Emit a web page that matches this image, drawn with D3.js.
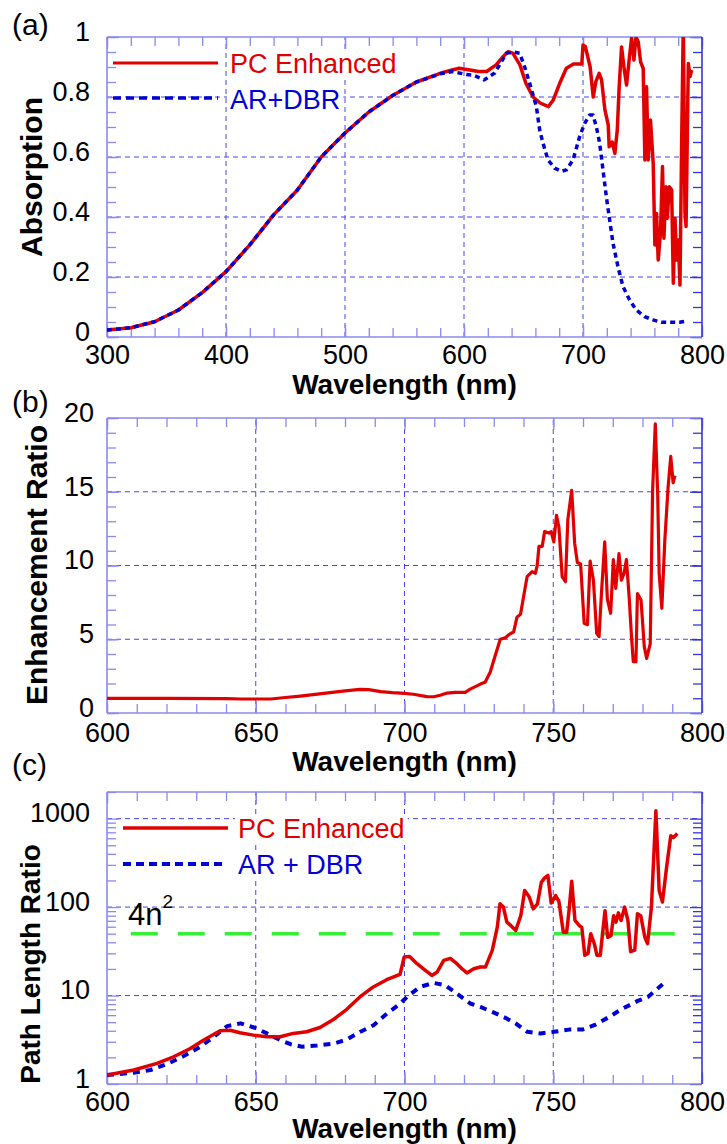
<!DOCTYPE html>
<html><head><meta charset="utf-8">
<script src="https://cdn.jsdelivr.net/npm/d3@7"></script>
<style>
body{margin:0;background:#fff}
svg{display:block}
text{font-family:"Liberation Sans",Arial,Helvetica,sans-serif}
</style>
</head><body>
<svg id="chart" width="727" height="1144"></svg>
<script>
// ---------------- DATA ----------------
// Panel (a): Absorption vs wavelength
const absWlPC = [300,320,340,360,380,400,420,440,460,480,500,520,540,560,580,590,596,605,612,619,627,633,637,641,647,652,658,664,671,675,681,686,692,699,700,702,706,708.6,710.8,713.6,715.6,718.4,721.2,722,724.5,726.8,728.8,730.4,732.4,734.4,736.6,738.9,740.8,742.8,744.5,746.4,748.4,750.6,752,753.4,754.8,756.7,759,760.4,761.8,763.2,765.1,766.8,768,769.7,770.8,772.5,774.5,775.9,777.3,778.7,780.1,781.5,782.9,784.3,785.7,786.6,788.5,790,791.3];
const absPC = [0.023,0.031,0.051,0.09,0.148,0.218,0.307,0.407,0.49,0.60,0.68,0.75,0.805,0.85,0.879,0.89,0.896,0.89,0.885,0.885,0.907,0.935,0.951,0.946,0.907,0.846,0.80,0.78,0.768,0.79,0.851,0.896,0.91,0.91,0.973,0.968,0.90,0.80,0.851,0.879,0.857,0.757,0.707,0.634,0.65,0.612,0.69,0.834,0.967,0.90,0.84,0.928,0.996,0.923,1.0,0.984,0.917,0.895,0.59,0.834,0.59,0.723,0.579,0.307,0.412,0.257,0.346,0.568,0.329,0.501,0.396,0.501,0.49,0.179,0.396,0.257,0.323,0.173,0.646,1.05,0.412,0.368,0.912,0.868,0.89];
const absWlRef = [300,320,340,360,380,400,420,440,460,480,500,520,540,560,580,590,596,602,608,617,625.8,631.4,635.6,641.2,646.8,651,655.2,660.8,663.6,666.4,670.6,676.2,681.8,686,691.6,697.2,701.4,705.6,708.4,711.2,714,716.8,719.6,722.4,725.2,729.4,733.6,739.2,744.8,751.8,758.8,765.8,774.2,781.2,788.2];
const absRef = [0.023,0.031,0.051,0.09,0.148,0.218,0.307,0.407,0.49,0.60,0.68,0.75,0.805,0.85,0.877,0.885,0.88,0.875,0.873,0.857,0.88,0.917,0.946,0.95,0.946,0.90,0.846,0.768,0.69,0.646,0.59,0.563,0.552,0.557,0.59,0.668,0.712,0.74,0.74,0.701,0.646,0.557,0.468,0.39,0.313,0.234,0.168,0.123,0.09,0.068,0.057,0.049,0.049,0.049,0.054];

// Panel (b): Enhancement ratio
const erWl = [600,620,640,645,655,660,665,670,675,680,685,688,692,696,700,703,707.5,709.8,712,714.3,717,720.4,722.1,725.5,727.1,728.8,730.5,732.2,733.9,735,736.7,737.8,739,741.2,742.9,744,744.6,745.2,746.3,747.1,748.5,749.3,750.2,751.1,751.9,753,754.1,754.9,756.2,757.2,758.1,759.2,760.4,761.5,762.4,763.5,764.6,765.4,766.2,767.3,768.2,769.3,770.2,771,772.1,772.9,773.8,774.6,775.5,776.3,776.9,777.8,778.3,779.5,780.6,781.4,782.6,783.4,784.3,785.1,785.6,786.5,787.5,788.6,789.5,790.3,790.9];
const erVal = [0.99,0.99,0.97,0.95,0.95,1.05,1.15,1.26,1.38,1.5,1.6,1.58,1.45,1.38,1.33,1.27,1.11,1.1,1.2,1.35,1.4,1.4,1.62,1.96,2.08,2.76,3.9,5.0,5.1,5.3,5.5,6.5,6.7,9.24,9.58,9.47,10.0,11.3,11.3,12.3,12.2,12.3,11.6,13.4,12.6,9.24,8.9,13.1,15.1,11.5,10.2,10.1,6.08,5.99,10.3,9.0,5.4,5.18,8.1,11.6,7.7,6.76,10.4,8.45,10.8,9.0,9.47,10.4,7.9,5.2,3.48,3.48,8.1,7.66,4.5,3.7,4.7,15.1,19.6,14.9,9.47,7.1,11.7,15.3,17.4,15.6,16.1];

// Panel (c): Path length ratio (log scale)
const plWlPC = [600,609,616.8,622.4,628,632.4,638,641.4,644.7,649.2,653.7,658.2,662.6,667.1,671.6,676.1,680.5,685,689.5,694,698.5,699.9,701.7,704.2,707,709.2,710.9,713.2,715.4,717.6,719.3,721,723.3,725.5,727.2,729.5,731.2,732.1,733.2,734.4,735.7,737.4,739.1,740.4,741.9,743.3,744.7,746,747.1,748.2,749.3,750.8,751.9,753.4,754.5,755.3,756.2,757.3,758.7,759.6,760.6,761.7,762.6,763.8,764.7,765.8,767.4,768.3,769.4,770.3,771.1,771.9,772.8,774,775.1,776,777.4,778.3,779.4,780.8,781.7,783,784.5,785.6,786.7,788.1,789.5,790.5,791.7];
const plPC = [1.26,1.44,1.71,2.03,2.52,3.13,3.99,4.05,3.79,3.57,3.42,3.42,3.73,3.9,4.35,5.36,6.95,9.64,12.5,15.1,17.3,27.3,27.7,22.9,19.3,16.9,18.3,25,26.3,22.9,20.1,18.0,20.1,21,21,32.4,59.4,109,101,67.6,62,54.5,80.4,154,131,95.6,109,191,214,228,111,135,116,52,52,91,196,70.6,62,59,28.5,29.9,50,38.6,28.5,28.5,91,45.5,47.5,80,67.6,86,70.6,100,70.6,31.3,32.7,84,80,45.5,38.6,100,1227,154,114,282,641,613,678];
const plWlRef = [600,608.9,614.6,620.2,625.8,631.4,635.9,640.4,644.9,649.4,653.8,658.3,661.7,665.6,670.6,676.2,680.7,685.2,689.6,694.1,698.6,700.8,705.2,709.7,713.6,717.6,722.1,725.5,729.5,733.9,737.4,741.3,745.8,750.3,755.3,759.8,763.8,768.3,772.8,778.4,781.8,785.1,788.3];
const plRef = [1.26,1.34,1.44,1.68,2.07,2.64,3.42,4.51,4.85,4.35,3.73,3.13,2.82,2.64,2.72,2.86,3.19,3.9,4.62,6.26,8.13,9.64,12.5,13.9,13.1,10.5,8.13,7.44,6.53,5.6,4.83,3.89,3.73,3.89,4.12,4.12,4.62,5.6,6.95,8.7,9.64,12.0,14.9];
const limitWl = [608,794];
const limitVal = [50,50];

// Tick labels
const absXTicks = [300,400,500,600,700,800];
const absYTicks = [0,0.2,0.4,0.6,0.8,1];
const absYLabels = ["0","0.2","0.4","0.6","0.8","1"];
const nirXTicks = [600,650,700,750,800];
const erYTicks = [0,5,10,15,20];
const plYTicks = [1,10,100,1000];

const legendNames = ["PC Enhanced","AR+DBR","AR + DBR"];

// ---------------- STYLE ----------------
const FRAME_L = "#8a8af0", FRAME_R = "#3434e2", GRID = "#4646e4";
const RED = "#e00000", BLUE = "#0000d4", GREEN = "#38ee38";
const svg = d3.select("#chart");
const X0 = 107, X1 = 702;

function panel(cfg){
  const g = svg.append("g");
  const x = cfg.x, y = cfg.y;
  const [yb, yt] = y.range();
  const clipId = cfg.id + "clip";
  svg.append("clipPath").attr("id", clipId).append("rect")
    .attr("x", X0).attr("y", yt).attr("width", X1 - X0).attr("height", yb - yt);

  // grid
  g.selectAll(null).data(cfg.xGrid).join("line")
    .attr("x1", d => x(d)).attr("x2", d => x(d)).attr("y1", yb).attr("y2", yt)
    .attr("stroke", GRID).attr("stroke-width", 1).attr("stroke-dasharray", "5,4");
  g.selectAll(null).data(cfg.yGrid).join("line")
    .attr("y1", d => y(d)).attr("y2", d => y(d)).attr("x1", X0).attr("x2", X1)
    .attr("stroke", GRID).attr("stroke-width", 1).attr("stroke-dasharray", "5,4");

  // ticks
  function ax(gen, vals, size, tx, ty, color){
    const a = g.append("g").attr("transform", `translate(${tx},${ty})`)
      .call(gen.tickValues(vals).tickSize(-size).tickFormat(""));
    a.select(".domain").remove();
    a.selectAll("line").attr("stroke", color).attr("stroke-width", 1.3);
  }
  ax(d3.axisBottom(x), cfg.xMinor, 9, 0, yb, FRAME_L);
  ax(d3.axisTop(x), cfg.xMinor, 9, 0, yt, FRAME_L);
  ax(d3.axisBottom(x), cfg.xMajor, 12, 0, yb, FRAME_L);
  ax(d3.axisTop(x), cfg.xMajor, 12, 0, yt, FRAME_L);
  ax(d3.axisLeft(y), cfg.yMinor, 9, X0, 0, FRAME_L);
  ax(d3.axisRight(y), cfg.yMinor, 9, X1, 0, FRAME_R);
  ax(d3.axisLeft(y), cfg.yMajor, 12, X0, 0, FRAME_L);
  ax(d3.axisRight(y), cfg.yMajor, 12, X1, 0, FRAME_R);

  // tick labels
  const bl = g.append("g").attr("transform", `translate(0,${yb})`)
    .call(d3.axisBottom(x).tickValues(cfg.xMajor).tickSize(0).tickPadding(cfg.xPad).tickFormat(d => d));
  bl.select(".domain").remove();
  bl.selectAll("text").attr("font-size", 27).attr("fill", "#000")
    .attr("font-family", "Liberation Sans, Arial, sans-serif");
  const ll = g.append("g").attr("transform", `translate(${X0},0)`)
    .call(d3.axisLeft(y).tickValues(cfg.yMajor).tickSize(0).tickPadding(cfg.yPad).tickFormat(cfg.yFmt));
  ll.select(".domain").remove();
  ll.selectAll("text").attr("font-size", 27).attr("fill", "#000").attr("dy", "0.12em")
    .attr("font-family", "Liberation Sans, Arial, sans-serif");

  // frame
  const f = g.append("g").attr("fill", "none").attr("stroke-width", 1.6);
  f.append("line").attr("x1", X0).attr("x2", X1).attr("y1", yt).attr("y2", yt).attr("stroke", FRAME_L);
  f.append("line").attr("x1", X0).attr("x2", X1).attr("y1", yb).attr("y2", yb).attr("stroke", FRAME_L);
  f.append("line").attr("x1", X0).attr("x2", X0).attr("y1", yt).attr("y2", yb).attr("stroke", FRAME_L);
  f.append("line").attr("x1", X1).attr("x2", X1).attr("y1", yt).attr("y2", yb).attr("stroke", FRAME_R);

  // titles
  svg.append("text").attr("x", (X0 + X1) / 2).attr("y", cfg.xtY).attr("text-anchor", "middle")
    .attr("font-size", 28).attr("font-weight", "bold").text("Wavelength (nm)");
  svg.append("text").attr("transform", `translate(${cfg.ytX},${cfg.ytY}) rotate(-90)`)
    .attr("text-anchor", "middle").attr("font-size", cfg.ytSize).attr("font-weight", "bold").text(cfg.yTitle);
  svg.append("text").attr("x", 12).attr("y", cfg.labY).attr("font-size", 30).text(cfg.lab);

  const plot = svg.append("g").attr("clip-path", `url(#${clipId})`);
  return plot;
}

function series(plot, wl, vals, x, y, color, width, dash){
  const line = d3.line().x(d => x(d[0])).y(d => y(d[1]));
  plot.append("path").datum(d3.zip(wl, vals)).attr("d", line)
    .attr("fill", "none").attr("stroke", color).attr("stroke-width", width)
    .attr("stroke-linejoin", "round").attr("stroke-dasharray", dash || null);
}

function legendItem(x1, x2, yLine, tx, tyBase, color, width, dash, label){
  svg.append("line").attr("x1", x1).attr("x2", x2).attr("y1", yLine).attr("y2", yLine)
    .attr("stroke", color).attr("stroke-width", width).attr("stroke-dasharray", dash || null);
  const t = svg.append("text").attr("x", tx).attr("y", tyBase).attr("font-size", 27)
    .attr("fill", color).text(label);
  const bb = t.node().getBBox();
  svg.insert("rect", () => t.node()).attr("x", bb.x - 3).attr("y", bb.y + 2)
    .attr("width", bb.width + 6).attr("height", bb.height - 4).attr("fill", "#fff");
}

// ---------------- PANEL A ----------------
const xa = d3.scaleLinear().domain([300, 800]).range([X0, X1]);
const ya = d3.scaleLinear().domain([0, 1]).range([337, 37]);
const pa = panel({id:"a", x:xa, y:ya,
  xMajor:absXTicks, xMinor:d3.range(300, 801, 20), xGrid:[400,500,600,700],
  yMajor:absYTicks, yMinor:d3.range(0, 1.001, 0.05), yGrid:[0.2,0.4,0.6,0.8],
  xPad:8, yPad:17, yFmt:(d,i) => absYLabels[i],
  xtY:394, ytX:42, ytY:177, ytSize:30, yTitle:"Absorption", lab:"(a)", labY:35});
series(pa, absWlPC, absPC, xa, ya, RED, 3.5);
series(pa, absWlRef, absRef, xa, ya, BLUE, 3.5, "5,4");
legendItem(113, 218, 63, 230, 73, RED, 3, null, legendNames[0]);
legendItem(113, 218, 98, 230, 109, BLUE, 3.5, "8,5", legendNames[1]);

// ---------------- PANEL B ----------------
const xb = d3.scaleLinear().domain([600, 800]).range([X0, X1]);
const yb = d3.scaleLinear().domain([0, 20]).range([713, 418]);
const pb = panel({id:"b", x:xb, y:yb,
  xMajor:nirXTicks, xMinor:d3.range(600, 801, 10), xGrid:[650,700,750],
  yMajor:erYTicks, yMinor:d3.range(0, 21, 1), yGrid:[5,10,15],
  xPad:10, yPad:13, yFmt:d => d,
  xtY:771, ytX:47, ytY:565, ytSize:30, yTitle:"Enhancement Ratio", lab:"(b)", labY:412});
series(pb, erWl, erVal, xb, yb, RED, 3.2);

// ---------------- PANEL C ----------------
const xc = d3.scaleLinear().domain([600, 800]).range([X0, X1]);
const yc = d3.scaleLog().domain([1, 2000]).range([1084, 792]);
const logMinor = [];
[1,10,100,1000].forEach(dec => { for (let k = 2; k <= 9; k++) { const v = dec * k; if (v <= 2000) logMinor.push(v); } });
const pc = panel({id:"c", x:xc, y:yc,
  xMajor:nirXTicks, xMinor:d3.range(600, 801, 10), xGrid:[650,700,750],
  yMajor:plYTicks, yMinor:logMinor, yGrid:[10,100,1000],
  xPad:8, yPad:17, yFmt:d => d,
  xtY:1138, ytX:40, ytY:964, ytSize:28, yTitle:"Path Length Ratio", lab:"(c)", labY:775});
series(pc, limitWl, limitVal, xc, yc, GREEN, 3.5, "27,20");
series(pc, plWlRef, plRef, xc, yc, BLUE, 4, "7,6");
series(pc, plWlPC, plPC, xc, yc, RED, 3.5);
legendItem(123, 228, 828, 238, 838, RED, 3.5, null, legendNames[0]);
legendItem(123, 225, 864, 238, 874, BLUE, 4, "8,5", legendNames[2]);
const lim = svg.append("text").attr("x", 128).attr("y", 925).attr("font-size", 31).attr("fill", "#000");
lim.append("tspan").text("4n");
lim.append("tspan").attr("dy", -17).attr("font-size", 19).text("2");
</script>
</body></html>
